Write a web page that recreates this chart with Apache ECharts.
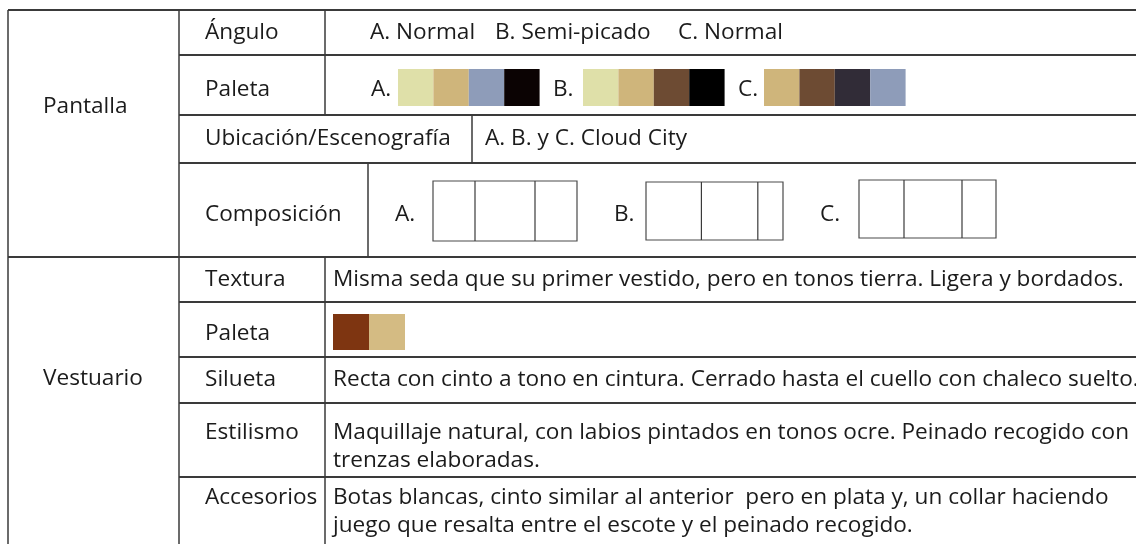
<!DOCTYPE html>
<html><head><meta charset="utf-8">
<script src="https://cdn.jsdelivr.net/npm/echarts@6/dist/echarts.min.js"></script>
<style>html,body{margin:0;padding:0;background:#fff}#c{width:1136px;height:544px}</style>
</head><body><div id="c"></div>
<script>
// ---------- DATA ----------
const sections = ['Pantalla', 'Vestuario'];
const pantallaLabels = ['Ángulo', 'Paleta', 'Ubicación/Escenografía', 'Composición'];
const variantLetters = ['A.', 'B.', 'C.'];
const anguloValues = ['A. Normal', 'B. Semi-picado', 'C. Normal'];
const paletteA = ['#dfe0a9', '#cfb57b', '#8e9cb9', '#0b0303'];
const paletteB = ['#dfe0a9', '#cfb57b', '#6d4b33', '#000000'];
const paletteC = ['#cfb57b', '#6d4b33', '#312c37', '#8e9cb9'];
const ubicacionValue = 'A. B. y C. Cloud City';
const compositionA = [42, 60, 42];
const compositionB = [55, 56, 25];
const compositionC = [45, 58, 34];
const vestuarioLabels = ['Textura', 'Paleta', 'Silueta', 'Estilismo', 'Accesorios'];
const vestuarioTexts = [
  ['Misma seda que su primer vestido, pero en tonos tierra. Ligera y bordados.'],
  [],
  ['Recta con cinto a tono en cintura. Cerrado hasta el cuello con chaleco suelto.'],
  ['Maquillaje natural, con labios pintados en tonos ocre. Peinado recogido con', 'trenzas elaboradas.'],
  ['Botas blancas, cinto similar al anterior  pero en plata y, un collar haciendo', 'juego que resalta entre el escote y el peinado recogido.']
];
const vestuarioPalette = ['#7e3511', '#d4bb83'];

// ---------- LAYOUT (table geometry, in axis units = px) ----------
const L = {
  left: 8, top: 10, right: 1140, bottom: 548,
  col1: 179, sectionSplit: 257,
  pRows: [10, 55, 115, 163, 257],
  pSplit: [325, 325, 472, 368],
  vRows: [257, 302, 357, 403, 477, 548],
  vSplit: 325,
  sectionX: 43, sectionY: [107, 379],
  labelX: 205,
  pLabelY: [33, 90, 139, 215],
  anguloX: [370, 495, 678],
  paletteLetterX: [371, 553, 738],
  paletteStartX: [398, 583, 764],
  swatchW: 35.4, swatchY: [69, 106],
  ubicacionX: 485,
  compLetterX: [395, 614, 820],
  compBox: [[433, 577, 181, 241], [646, 783, 182, 240], [859, 996, 180, 238]],
  vTextX: 333,
  vLabelY: [280, 334, 380, 433, 498],
  lineH: 27.5,
  vSwatch: [333, 36, 314, 350]
};
const FONT = '22.6px "Open Sans"';
const TXT = '#1b1b1b';
const LINE = '#3a3a3a';

// ---------- build element list ----------
const lines = [], rects = [], texts = [];
const hl = (y, x1, x2, w) => lines.push({ a: [x1, y], b: [x2, y], w: w || 1.8, c: LINE });
const vl = (x, y1, y2, w) => lines.push({ a: [x, y1], b: [x, y2], w: w || 1.5, c: LINE });

hl(L.top, L.left, L.right);
vl(L.left, L.top, L.bottom);
vl(L.col1, L.top, L.bottom);
hl(L.sectionSplit, L.left, L.right);
for (let i = 1; i < L.pRows.length - 1; i++) hl(L.pRows[i], L.col1, L.right);
for (let i = 0; i < pantallaLabels.length; i++) vl(L.pSplit[i], L.pRows[i], L.pRows[i + 1]);
for (let i = 1; i < L.vRows.length - 1; i++) hl(L.vRows[i], L.col1, L.right);
vl(L.vSplit, L.vRows[0], L.bottom);

sections.forEach((s, i) => texts.push({ p: [L.sectionX, L.sectionY[i]], t: s }));
pantallaLabels.forEach((s, i) => texts.push({ p: [L.labelX, L.pLabelY[i]], t: s }));
anguloValues.forEach((s, i) => texts.push({ p: [L.anguloX[i], L.pLabelY[0]], t: s }));
[paletteA, paletteB, paletteC].forEach((pal, g) => {
  texts.push({ p: [L.paletteLetterX[g], L.pLabelY[1]], t: variantLetters[g] });
  pal.forEach((col, k) => {
    const x0 = L.paletteStartX[g] + k * L.swatchW;
    rects.push({ a: [x0, L.swatchY[0]], b: [x0 + L.swatchW, L.swatchY[1]], fill: col });
  });
});
texts.push({ p: [L.ubicacionX, L.pLabelY[2]], t: ubicacionValue });
[compositionA, compositionB, compositionC].forEach((comp, g) => {
  texts.push({ p: [L.compLetterX[g], L.pLabelY[3]], t: variantLetters[g] });
  const [x0, x1, y0, y1] = L.compBox[g];
  const tot = comp.reduce((a, b) => a + b, 0);
  rects.push({ a: [x0, y0], b: [x1, y1], fill: 'none', stroke: '#4a4a4a' });
  let acc = 0;
  for (let k = 0; k < comp.length - 1; k++) {
    acc += comp[k];
    const x = x0 + (x1 - x0) * acc / tot;
    lines.push({ a: [x, y0], b: [x, y1], w: 1.2, c: '#3a3a3a' });
  }
});
vestuarioLabels.forEach((s, i) => {
  texts.push({ p: [L.labelX, L.vLabelY[i]], t: s });
  vestuarioTexts[i].forEach((ln, j) => texts.push({ p: [L.vTextX, L.vLabelY[i] + j * L.lineH], t: ln }));
});
vestuarioPalette.forEach((col, k) => {
  const x0 = L.vSwatch[0] + k * L.vSwatch[1];
  rects.push({ a: [x0, L.vSwatch[2]], b: [x0 + L.vSwatch[1], L.vSwatch[3]], fill: col });
});

// ---------- chart ----------
const chart = echarts.init(document.getElementById('c'), null, { renderer: 'canvas' });
chart.setOption({
  backgroundColor: '#ffffff',
  animation: false,
  grid: { left: 0, right: 0, top: 0, bottom: 0 },
  xAxis: { type: 'value', min: 0, max: 1136, show: false },
  yAxis: { type: 'value', min: 0, max: 544, inverse: true, show: false },
  series: [
    {
      type: 'custom', clip: false, silent: true,
      data: rects.map(r => [r.a[0], r.a[1]]),
      renderItem: (params, api) => {
        const r = rects[params.dataIndex];
        const p0 = api.coord(r.a), p1 = api.coord(r.b);
        return {
          type: 'rect',
          shape: { x: p0[0], y: p0[1], width: p1[0] - p0[0], height: p1[1] - p0[1] },
          style: { fill: r.fill === 'none' ? null : r.fill, stroke: r.stroke || null, lineWidth: 1.2 }
        };
      }
    },
    {
      type: 'custom', clip: false, silent: true,
      data: lines.map(l => [l.a[0], l.a[1]]),
      renderItem: (params, api) => {
        const l = lines[params.dataIndex];
        const p0 = api.coord(l.a), p1 = api.coord(l.b);
        return {
          type: 'line',
          shape: { x1: p0[0], y1: p0[1], x2: p1[0], y2: p1[1] },
          style: { stroke: l.c, lineWidth: l.w }
        };
      }
    },
    {
      type: 'custom', clip: false, silent: true,
      data: texts.map(t => t.p),
      renderItem: (params, api) => {
        const t = texts[params.dataIndex];
        const p = api.coord(t.p);
        return {
          type: 'text', x: p[0], y: p[1],
          style: { text: t.t, font: FONT, fill: TXT, align: 'left', verticalAlign: 'middle', textAlign: 'left', textVerticalAlign: 'middle' }
        };
      }
    }
  ]
});
</script>
</body></html>
